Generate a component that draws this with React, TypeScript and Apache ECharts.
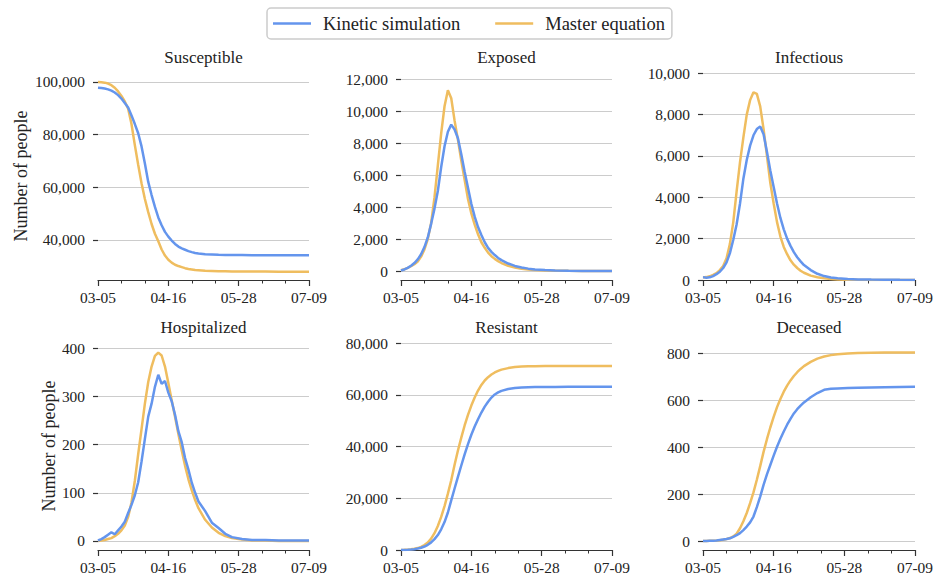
import { useEffect, useRef } from 'react';
import * as echarts from 'echarts';

// ---------- data ----------
const days = [0, 2, 4, 6, 8, 10, 12, 14, 16, 18, 20, 22, 24, 26, 28, 30, 32, 34, 36, 38, 40, 42, 44, 46, 48, 50, 52, 54, 56, 58, 60, 64, 68, 72, 76, 80, 86, 92, 100, 108, 117, 126];
const tickDays = [0, 42, 84, 126];
const tickLabels = ['03-05', '04-16', '05-28', '07-09'];
const seriesNames = ['Kinetic simulation', 'Master equation'];
const panelTitles = ['Susceptible', 'Exposed', 'Infectious', 'Hospitalized', 'Resistant', 'Deceased'];
const yAxisTitle = 'Number of people';

const susceptibleKinetic = [97800, 97700, 97500, 97200, 96700, 96000, 95000, 93700, 92000, 90300, 87300, 84000, 80500, 75500, 69000, 62000, 57000, 52500, 48500, 45500, 43000, 41200, 39700, 38400, 37400, 36700, 36200, 35700, 35300, 35000, 34800, 34500, 34400, 34300, 34250, 34200, 34200, 34150, 34150, 34100, 34100, 34100];
const susceptibleMaster = [100000, 99900, 99750, 99400, 98800, 97800, 96400, 94700, 92600, 89800, 84000, 76000, 68500, 61500, 55500, 50500, 46000, 42300, 39400, 36300, 34000, 32400, 31300, 30500, 30000, 29600, 29200, 28900, 28700, 28500, 28400, 28200, 28100, 28000, 28000, 27950, 27900, 27900, 27900, 27850, 27850, 27850];

const exposedKinetic = [30, 100, 200, 330, 500, 730, 1050, 1500, 2100, 2950, 3900, 5000, 6500, 7800, 8700, 9150, 8850, 8300, 7300, 6200, 5200, 4200, 3400, 2750, 2250, 1800, 1450, 1200, 1000, 820, 680, 470, 320, 220, 150, 100, 60, 35, 20, 10, 5, 3];
const exposedMaster = [50, 110, 200, 300, 430, 600, 900, 1350, 2000, 3000, 4600, 6600, 8600, 10300, 11300, 10800, 9400, 8200, 6900, 5700, 4500, 3600, 2900, 2300, 1800, 1450, 1150, 930, 760, 620, 500, 330, 220, 140, 90, 60, 35, 20, 12, 7, 4, 2];

const infectiousKinetic = [140, 110, 130, 190, 280, 400, 580, 850, 1300, 1950, 2700, 3700, 4900, 5800, 6500, 7000, 7300, 7420, 7050, 6200, 5300, 4500, 3700, 3000, 2450, 2000, 1650, 1350, 1100, 900, 720, 480, 300, 190, 120, 80, 50, 30, 20, 12, 8, 5];
const infectiousMaster = [120, 140, 180, 250, 330, 480, 680, 1050, 1750, 2800, 4300, 5700, 6900, 8000, 8700, 9080, 9000, 8400, 7300, 6000, 4700, 3700, 2800, 2100, 1600, 1250, 950, 740, 580, 450, 350, 210, 130, 80, 50, 30, 15, 8, 4, 2, 1, 1];

const hospitalizedKinetic = [1, 4, 8, 13, 18, 14, 22, 30, 40, 58, 75, 95, 122, 165, 212, 258, 285, 320, 345, 326, 332, 308, 290, 262, 228, 205, 172, 148, 121, 100, 82, 62, 38, 27, 15, 8, 4, 2, 2, 1, 1, 1];
const hospitalizedMaster = [0, 1, 2, 4, 6, 10, 15, 22, 32, 50, 80, 125, 180, 232, 285, 330, 362, 384, 391, 385, 362, 328, 292, 258, 222, 188, 156, 128, 105, 85, 68, 44, 28, 17, 10, 6, 3, 1, 1, 0, 0, 0];

const resistantKinetic = [0, 30, 80, 170, 320, 550, 880, 1350, 2000, 2950, 4200, 5800, 8000, 10800, 14500, 19200, 23800, 28300, 32700, 37000, 41000, 44600, 47800, 50600, 53200, 55500, 57400, 59000, 60200, 61000, 61600, 62300, 62700, 62900, 63000, 63050, 63100, 63100, 63150, 63150, 63200, 63200];
const resistantMaster = [0, 50, 120, 250, 450, 750, 1200, 1900, 2900, 4400, 6500, 9300, 12800, 17000, 21800, 27000, 33000, 38500, 43500, 48200, 52300, 55900, 59000, 61700, 63900, 65600, 66900, 67900, 68700, 69300, 69800, 70400, 70800, 71000, 71100, 71150, 71200, 71200, 71250, 71250, 71250, 71250];

const deceasedKinetic = [0, 0, 1, 2, 3, 5, 7, 9, 12, 18, 25, 34, 47, 62, 80, 105, 145, 190, 240, 285, 325, 365, 403, 437, 468, 497, 522, 545, 563, 578, 592, 614, 632, 646, 650, 652, 654, 655, 656, 657, 658, 659];
const deceasedMaster = [0, 0, 1, 1, 2, 4, 6, 9, 13, 20, 32, 55, 85, 120, 162, 208, 262, 320, 381, 435, 485, 530, 572, 607, 638, 664, 686, 705, 721, 735, 747, 765, 779, 788, 794, 798, 801, 803, 804, 805, 805, 805];

const kineticData = [susceptibleKinetic, exposedKinetic, infectiousKinetic, hospitalizedKinetic, resistantKinetic, deceasedKinetic];
const masterData = [susceptibleMaster, exposedMaster, infectiousMaster, hospitalizedMaster, resistantMaster, deceasedMaster];

const yTickValues = [
  [40000, 60000, 80000, 100000],
  [0, 2000, 4000, 6000, 8000, 10000, 12000],
  [0, 2000, 4000, 6000, 8000, 10000],
  [0, 100, 200, 300, 400],
  [0, 20000, 40000, 60000, 80000],
  [0, 200, 400, 600, 800],
];
const yMins = [24700, -560, 0, -18.7, 0, -38];
const yMaxs = [103800, 12440, 10060, 413, 80500, 850];

// ---------- styling / layout ----------
const FONT = 'serif';
const BLUE = '#6495ED';
const ORANGE = '#EFBD5F';
const TEXT = '#222222';
const gridLefts = [98, 401, 703];
const gridWidths = [211, 211, 212];
const gridTops = [72, 342];
const gridHeight = 208;

export default function App() {
  const ref = useRef<HTMLDivElement>(null);

  useEffect(() => {
    if (!ref.current) return;
    const chart = echarts.init(ref.current, undefined, { renderer: 'svg' });

    const grids: any[] = [];
    const xAxes: any[] = [];
    const yAxes: any[] = [];
    const series: any[] = [];
    const graphics: any[] = [];

    for (let i = 0; i < 6; i++) {
      const row = Math.floor(i / 3);
      const col = i % 3;
      grids.push({ left: gridLefts[col], top: gridTops[row], width: gridWidths[col], height: gridHeight });
      xAxes.push({
        type: 'value',
        gridIndex: i,
        min: 0,
        max: 126,
        interval: 42,
        axisLine: { show: true, onZero: false, lineStyle: { color: '#333', width: 1.2 } },
        axisTick: { show: true, length: 6, lineStyle: { color: '#333', width: 1.2 } },
        minorTick: { show: true, splitNumber: 3, length: 3.5, lineStyle: { color: '#333', width: 1 } },
        splitLine: { show: false },
        minorSplitLine: { show: false },
        axisLabel: {
          margin: 10,
          fontFamily: FONT,
          fontSize: 15.4,
          color: TEXT,
          formatter: (v: number) => {
            const k = tickDays.indexOf(Math.round(v));
            return k >= 0 ? tickLabels[k] : '';
          },
        },
      });
      yAxes.push({
        type: 'value',
        gridIndex: i,
        min: yMins[i],
        max: yMaxs[i],
        axisLine: { show: false },
        axisTick: { show: true, length: 5, customValues: yTickValues[i], lineStyle: { color: '#333', width: 1.2 } },
        axisLabel: {
          customValues: yTickValues[i],
          margin: 13,
          fontFamily: FONT,
          fontSize: 15.4,
          color: TEXT,
          formatter: (v: number) => v.toLocaleString('en-US'),
        },
        splitLine: { show: true, lineStyle: { color: '#cccccc', width: 1 } },
        name: col === 0 ? yAxisTitle : '',
        nameLocation: 'middle',
        nameGap: row === 0 ? 68 : 40,
        nameTextStyle: { fontFamily: FONT, fontSize: 18, color: TEXT },
      });
      series.push({
        type: 'line',
        name: seriesNames[1],
        xAxisIndex: i,
        yAxisIndex: i,
        data: days.map((d, k) => [d, masterData[i][k]]),
        showSymbol: false,
        symbol: 'none',
        color: ORANGE,
        lineStyle: { width: 2.5, color: ORANGE },
      });
      series.push({
        type: 'line',
        name: seriesNames[0],
        xAxisIndex: i,
        yAxisIndex: i,
        data: days.map((d, k) => [d, kineticData[i][k]]),
        showSymbol: false,
        symbol: 'none',
        color: BLUE,
        lineStyle: { width: 2.5, color: BLUE },
      });
      graphics.push({
        type: 'text',
        x: gridLefts[col] + gridWidths[col] / 2,
        y: gridTops[row] - 15,
        style: {
          text: panelTitles[i],
          fill: TEXT,
          font: '17px serif',
          align: 'center',
          verticalAlign: 'middle',
        },
      });
    }

    chart.setOption({
      animation: false,
      backgroundColor: '#ffffff',
      textStyle: { fontFamily: FONT },
      legend: {
        data: seriesNames,
        left: 267,
        top: 8,
        orient: 'horizontal',
        icon: 'rect',
        itemWidth: 38,
        itemHeight: 2.5,
        itemGap: 35,
        padding: [6, 7, 6, 6],
        borderColor: '#cccccc',
        borderWidth: 1.5,
        borderRadius: 4,
        backgroundColor: '#ffffff',
        textStyle: { fontFamily: FONT, fontSize: 18.5, color: TEXT, padding: [0, 0, 0, 7] },
      },
      grid: grids,
      xAxis: xAxes,
      yAxis: yAxes,
      series,
      graphic: graphics,
    });

    return () => chart.dispose();
  }, []);

  return (
    <div
      ref={ref}
      style={{ position: 'fixed', left: 0, top: 0, width: 949, height: 582, background: '#ffffff' }}
    />
  );
}
